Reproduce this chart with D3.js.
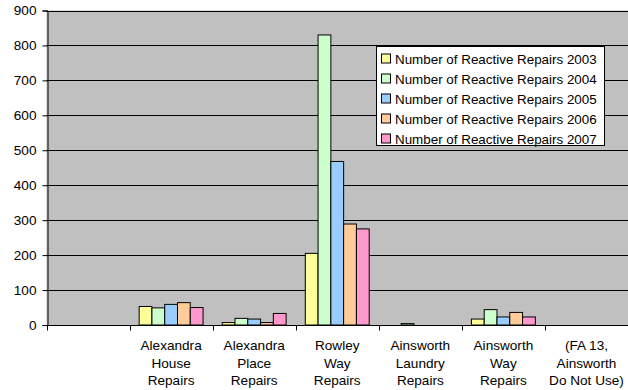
<!DOCTYPE html>
<html>
<head>
<meta charset="utf-8">
<script src="https://cdn.jsdelivr.net/npm/d3@7"></script>
<style>
  html, body { margin: 0; padding: 0; background: #fff; }
  svg { display: block; font-family: "Liberation Sans", Arial, sans-serif; }
</style>
</head>
<body>
<svg id="chart" width="628" height="390"></svg>
<script>
// Categories (line breaks mark the wrapped axis labels)
const categories = [
  "",
  "Alexandra\nHouse\nRepairs",
  "Alexandra\nPlace\nRepairs",
  "Rowley\nWay\nRepairs",
  "Ainsworth\nLaundry\nRepairs",
  "Ainsworth\nWay\nRepairs",
  "(FA 13,\nAinsworth\nDo Not Use)"
];

const seriesNames = [
  "Number of Reactive Repairs 2003",
  "Number of Reactive Repairs 2004",
  "Number of Reactive Repairs 2005",
  "Number of Reactive Repairs 2006",
  "Number of Reactive Repairs 2007"
];

const repairs2003 = [0, 53, 7, 205, 0, 17, 0];
const repairs2004 = [0, 49, 19, 830, 4, 44, 0];
const repairs2005 = [0, 59, 17, 468, 0, 23, 0];
const repairs2006 = [0, 64, 7, 289, 0, 36, 0];
const repairs2007 = [0, 50, 33, 275, 0, 23, 0];

const seriesColors = ["#FFFF99", "#CCFFCC", "#99CCFF", "#FFCC99", "#FF99CC"];
const yTicks = [0, 100, 200, 300, 400, 500, 600, 700, 800, 900];

const seriesValues = [repairs2003, repairs2004, repairs2005, repairs2006, repairs2007];

const svg = d3.select("#chart");
const plot = { left: 46.5, right: 628, top: 10.5, bottom: 325 };

const x0 = d3.scaleBand()
  .domain(d3.range(categories.length))
  .range([plot.left, plot.right])
  .padding(0);

const x1 = d3.scaleBand()
  .domain(d3.range(seriesNames.length))
  .range([0, x0.bandwidth()])
  .paddingInner(0)
  .paddingOuter(0.75);

const y = d3.scaleLinear().domain([0, 900]).range([plot.bottom, plot.top]);

// Plot background
svg.append("rect")
  .attr("x", plot.left).attr("y", plot.top)
  .attr("width", plot.right - plot.left).attr("height", plot.bottom - plot.top)
  .attr("fill", "#C0C0C0");

// Horizontal gridlines
svg.append("g")
  .selectAll("line")
  .data(yTicks.filter(d => d > 0))
  .join("line")
  .attr("x1", plot.left).attr("x2", plot.right)
  .attr("y1", d => Math.round(y(d)) + 0.5)
  .attr("y2", d => Math.round(y(d)) + 0.5)
  .attr("stroke", "#000")
  .attr("stroke-width", 1);

// Bars
const barData = [];
seriesValues.forEach((vals, s) => {
  vals.forEach((v, c) => {
    if (v > 0) barData.push({ s, c, v });
  });
});

svg.append("g")
  .selectAll("rect")
  .data(barData)
  .join("rect")
  .attr("x", d => x0(d.c) + x1(d.s))
  .attr("y", d => y(d.v))
  .attr("width", x1.bandwidth())
  .attr("height", d => y(0) - y(d.v))
  .attr("fill", d => seriesColors[d.s])
  .attr("stroke", "#000")
  .attr("stroke-width", 1);

// Y axis
const yAxis = d3.axisLeft(y)
  .tickValues(yTicks)
  .tickSize(5)
  .tickPadding(6)
  .tickFormat(d3.format("d"));

const gy = svg.append("g")
  .attr("transform", `translate(${Math.round(plot.left) + 0.5},0)`)
  .call(yAxis);
gy.select(".domain").attr("stroke", "#000");
gy.selectAll(".tick line").attr("stroke", "#000");
gy.selectAll(".tick text")
  .attr("fill", "#000")
  .style("font-size", "13.6px")
  .style("font-family", "'Liberation Sans', Arial, sans-serif");

// X axis: category boundary ticks and wrapped labels
const baseY = Math.round(y(0)) + 0.5;
svg.append("line")
  .attr("x1", plot.left).attr("x2", plot.right)
  .attr("y1", baseY).attr("y2", baseY)
  .attr("stroke", "#000");

const boundaries = d3.range(categories.length + 1).map(i => plot.left + i * x0.step());
svg.append("g")
  .selectAll("line")
  .data(boundaries)
  .join("line")
  .attr("x1", d => Math.round(d) + 0.5).attr("x2", d => Math.round(d) + 0.5)
  .attr("y1", baseY).attr("y2", baseY + 5)
  .attr("stroke", "#000");

const xLabels = svg.append("g")
  .selectAll("text")
  .data(categories.map((c, i) => ({ c, i })))
  .join("text")
  .attr("text-anchor", "middle")
  .attr("fill", "#000")
  .style("font-size", "13.6px");

xLabels.each(function (d) {
  const lines = d.c ? d.c.split("\n") : [];
  const cx = x0(d.i) + x0.bandwidth() / 2;
  d3.select(this).selectAll("tspan")
    .data(lines)
    .join("tspan")
    .attr("x", cx)
    .attr("y", (l, k) => 350 + k * 17.5)
    .text(l => l);
});

// Legend
const legend = svg.append("g");
legend.append("rect")
  .attr("x", 376.5).attr("y", 46.5)
  .attr("width", 228).attr("height", 99)
  .attr("fill", "#fff")
  .attr("stroke", "#000");

const items = legend.selectAll("g.item")
  .data(seriesNames.map((n, i) => ({ n, i })))
  .join("g")
  .attr("class", "item")
  .attr("transform", d => `translate(0,${58.5 + d.i * 20})`);

items.append("rect")
  .attr("x", 381.5).attr("y", -4.5)
  .attr("width", 9).attr("height", 9)
  .attr("fill", d => seriesColors[d.i])
  .attr("stroke", "#000");

items.append("text")
  .attr("x", 395)
  .attr("y", 5)
  .attr("fill", "#000")
  .style("font-size", "13.4px")
  .text(d => d.n);
</script>
</body>
</html>
